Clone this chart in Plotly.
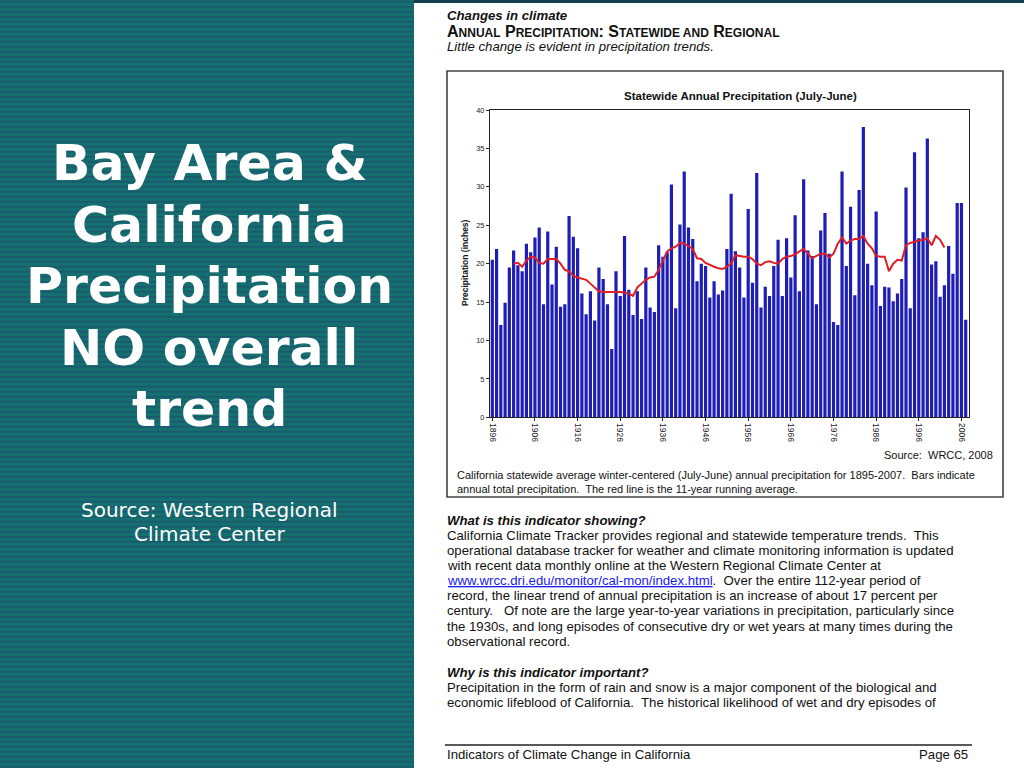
import plotly.graph_objects as go

# ---------------- data ----------------
years = list(range(1896, 2008))
precip = [
    20.5, 21.9, 12.0, 14.9, 19.5, 21.7, 19.8, 19.0, 22.6, 21.5,
    23.4, 24.7, 14.7, 24.2, 17.3, 22.2, 14.4, 14.7, 26.2, 23.5,
    22.0, 16.1, 13.4, 16.4, 12.6, 19.5, 18.0, 14.7, 8.9, 19.0,
    15.8, 23.6, 16.6, 13.3, 16.4, 12.8, 19.5, 14.3, 13.7, 22.4,
    20.9, 21.5, 30.3, 14.2, 25.1, 32.0, 24.7, 23.2, 17.7, 20.0,
    19.7, 15.6, 17.7, 16.0, 16.5, 21.9, 29.1, 21.6, 19.5, 15.6,
    27.1, 17.5, 31.8, 14.3, 17.0, 15.8, 19.7, 23.1, 15.8, 23.3,
    18.2, 26.3, 16.4, 31.0, 21.7, 21.0, 14.7, 24.3, 26.6, 21.3,
    12.4, 12.0, 32.0, 19.7, 27.4, 15.9, 29.6, 37.8, 20.0, 17.2,
    26.8, 14.5, 17.0, 16.9, 15.1, 16.1, 18.0, 29.9, 14.2, 34.5,
    23.3, 24.1, 36.3, 19.9, 20.3, 15.7, 17.2, 22.3, 18.7, 27.9,
    27.9, 12.7,
]
avg_years = list(range(1901, 2003))
running_avg = [
    20.0, 20.1, 19.6, 20.4, 20.9, 20.8, 20.1, 20.0, 20.6, 20.6,
    20.6, 20.0, 19.2, 19.0, 18.4, 18.2, 18.0, 17.9, 17.4, 16.9,
    16.4, 16.3, 16.3, 16.3, 16.3, 16.3, 16.2, 16.1, 15.8, 16.9,
    17.4, 17.9, 18.2, 18.3, 19.2, 20.3, 21.6, 22.0, 22.2, 22.7,
    22.6, 22.3, 21.9, 20.7, 20.6, 20.1, 19.8, 19.6, 19.4, 19.3,
    19.6, 20.0, 21.1, 21.0, 20.9, 20.9, 20.6, 20.0, 19.8, 20.2,
    20.3, 20.1, 20.0, 20.6, 20.9, 21.0, 21.2, 21.6, 21.9, 21.3,
    20.7, 21.0, 21.3, 21.3, 20.8, 21.3, 22.6, 23.4, 22.6, 23.0,
    23.2, 23.2, 23.6, 22.6, 22.0, 21.0, 20.9, 20.9, 19.0, 20.0,
    20.5, 20.4, 22.4, 22.7, 22.9, 23.0, 23.1, 23.3, 22.4, 23.6,
    23.1, 22.1,
]
x_tick_vals = list(range(1896, 2007, 10))
x_tick_text = [str(v) for v in x_tick_vals]
y_tick_vals = [0, 5, 10, 15, 20, 25, 30, 35, 40]

W, H = 1024, 768
def px(x):
    return x / W
def py(y):
    return 1 - y / H

fig = go.Figure()
fig.add_trace(go.Bar(x=years, y=precip, marker=dict(color="#1e1eb4", line=dict(width=0)),
                     showlegend=False, hoverinfo="x+y"))
fig.add_trace(go.Scatter(x=avg_years, y=running_avg, mode="lines",
                         line=dict(color="#e01e26", width=2), showlegend=False))

shapes = []
# left panel background with stripes
shapes.append(dict(type="rect", xref="paper", yref="paper", x0=0, x1=px(414), y0=0, y1=1,
                   fillcolor="#13706f", line=dict(width=0), layer="below"))
yy = 1
while yy < H:
    shapes.append(dict(type="rect", xref="paper", yref="paper", x0=0, x1=px(414),
                       y0=py(yy + 1.5), y1=py(yy), fillcolor="#1e5670",
                       line=dict(width=0), layer="below"))
    yy += 5
# top dark strip over page
shapes.append(dict(type="rect", xref="paper", yref="paper", x0=px(414), x1=1, y0=py(3), y1=1,
                   fillcolor="#123f4f", line=dict(width=0), layer="below"))
# chart frame
shapes.append(dict(type="rect", xref="paper", yref="paper", x0=px(447), x1=px(1003),
                   y0=py(497), y1=py(71), line=dict(color="#444444", width=1.6)))
# footer rule
shapes.append(dict(type="line", xref="paper", yref="paper", x0=px(445), x1=px(972),
                   y0=py(745), y1=py(745), line=dict(color="#222222", width=1.5)))

ann = []
def txt(x, y, s, size, color="#111111", family="Liberation Sans, Arial, sans-serif",
        xanchor="left", angle=0):
    ann.append(dict(x=px(x), y=py(y), xref="paper", yref="paper", text=s, showarrow=False,
                    xanchor=xanchor, yanchor="middle", textangle=angle,
                    font=dict(size=size, color=color, family=family)))

# left panel title
lf = "DejaVu Sans, Verdana, sans-serif"
for line, yv in [("Bay Area &", 162), ("California", 224), ("Precipitation", 285),
                 ("NO overall", 347), ("trend", 408)]:
    txt(209, yv, "<b>" + line + "</b>", 50.5, color="white", family=lf, xanchor="center")
txt(209, 510, "Source: Western Regional", 20, color="white", family=lf, xanchor="center")
txt(209, 534, "Climate Center", 20, color="white", family=lf, xanchor="center")

# page header
txt(445, 15, "<b><i>Changes in climate</i></b>", 13.2)
sc = lambda s: "<span style='font-size:12px'>" + s + "</span>"
txt(445, 31, "<b>A" + sc("NNUAL") + " P" + sc("RECIPITATION") + ": S" + sc("TATEWIDE AND") +
    " R" + sc("EGIONAL") + "</b>", 16)
txt(445, 47, "<i>Little change is evident in precipitation trends.</i>", 13.2)

# chart texts
txt(740, 96, "<b>Statewide Annual Precipitation (July-June)</b>", 11.5, xanchor="center")
txt(465, 263, "<b>Precipitation (inches)</b>", 8.5, xanchor="center", angle=-90)
txt(995, 455, "Source:  WRCC, 2008", 11, xanchor="right")
txt(455, 475, "California statewide average winter-centered (July-June) annual precipitation for 1895-2007.  Bars indicate", 11)
txt(455, 489, "annual total precipitation.  The red line is the 11-year running average.", 11)

# body text
body = [
    (520, "<b><i>What is this indicator showing?</i></b>"),
    (535, "California Climate Tracker provides regional and statewide temperature trends.  This"),
    (550, "operational database tracker for weather and climate monitoring information is updated"),
    (565, "with recent data monthly online at the Western Regional Climate Center at"),
    (580, "<span style='color:#1a1aee;text-decoration:underline'>www.wrcc.dri.edu/monitor/cal-mon/index.html</span>.  Over the entire 112-year period of"),
    (595, "record, the linear trend of annual precipitation is an increase of about 17 percent per"),
    (610, "century.   Of note are the large year-to-year variations in precipitation, particularly since"),
    (626, "the 1930s, and long episodes of consecutive dry or wet years at many times during the"),
    (641, "observational record."),
    (672, "<b><i>Why is this indicator important?</i></b>"),
    (687, "Precipitation in the form of rain and snow is a major component of the biological and"),
    (702, "economic lifeblood of California.  The historical likelihood of wet and dry episodes of"),
]
for yv, s in body:
    txt(445, yv, s, 13.2)
txt(445, 754, "Indicators of Climate Change in California", 13.2)
txt(970, 754, "Page 65", 13.2, xanchor="right")

fig.update_layout(
    width=W, height=H,
    margin=dict(l=0, r=0, t=0, b=0, pad=0, autoexpand=False),
    paper_bgcolor="white", plot_bgcolor="white",
    bargap=0.25,
    shapes=shapes, annotations=ann,
    xaxis=dict(domain=[px(490), px(969)], range=[1895.46, 2007.77], automargin=False,
               tickmode="array", tickvals=x_tick_vals, ticktext=x_tick_text,
               tickangle=90, tickfont=dict(size=8.5, color="#222222", family="Liberation Sans, Arial"),
               ticks="outside", ticklen=3, tickcolor="#222222",
               showline=True, linecolor="#222222", linewidth=1, mirror=True,
               showgrid=False, zeroline=False, fixedrange=True),
    yaxis=dict(domain=[py(417.3), py(110)], range=[0, 40], automargin=False,
               tickmode="array", tickvals=y_tick_vals,
               tickfont=dict(size=7.5, color="#222222", family="Liberation Sans, Arial"),
               ticks="outside", ticklen=3, tickcolor="#222222",
               showline=True, linecolor="#222222", linewidth=1, mirror=True,
               showgrid=False, zeroline=False, fixedrange=True),
)

fig.write_html("out.html", config={"displayModeBar": False},
               post_script="document.documentElement.style.margin='0';document.body.style.margin='0';document.body.style.padding='0';document.body.style.overflow='hidden';")
